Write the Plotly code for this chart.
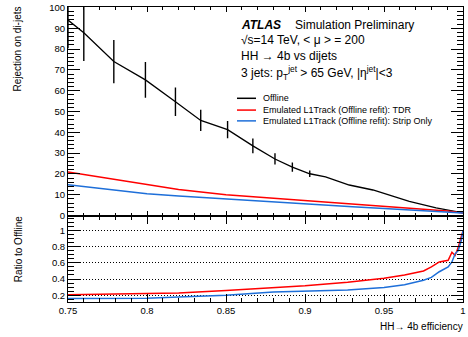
import plotly.graph_objects as go

# ---- data ----
eff_offline = [0.75, 0.760, 0.779, 0.799, 0.818, 0.834, 0.851, 0.867, 0.881, 0.892,
               0.903, 0.913, 0.928, 0.943, 0.966, 0.983, 1.0]
rej_offline = [93.9, 87.8, 74.0, 65.2, 54.7, 45.7, 41.3, 33.5, 27.2, 23.3,
               20.1, 18.6, 14.7, 12.3, 6.8, 3.7, 1.3]
err_offline = [13.5, 13.5, 10.4, 8.6, 6.8, 5.1, 4.2, 3.5, 2.7, 2.2,
               1.6, 0.0, 0.0, 0.0, 0.0, 0.0, 0.0]

eff_emu = [0.75, 0.78, 0.80, 0.82, 0.85, 0.88, 0.90, 0.93, 0.95, 0.97, 0.99, 1.0]
rej_tdr = [20.9, 17.4, 14.8, 12.5, 10.0, 8.3, 7.4, 5.7, 4.6, 3.5, 2.2, 1.3]
rej_strip = [14.8, 12.1, 10.5, 9.4, 7.9, 6.5, 5.6, 4.2, 3.4, 2.6, 1.7, 1.3]

eff_ratio = [0.75, 0.80, 0.82, 0.85, 0.88, 0.90, 0.927, 0.95, 0.963, 0.975, 0.98,
             0.985, 0.9906, 0.993, 0.995, 0.997, 0.999, 1.0]
ratio_tdr = [0.208, 0.22, 0.23, 0.26, 0.29, 0.317, 0.361, 0.41, 0.45, 0.50, 0.55,
             0.61, 0.63, 0.73, 0.69, 0.79, 0.93, 0.99]
ratio_strip = [0.16, 0.165, 0.18, 0.20, 0.24, 0.25, 0.265, 0.295, 0.33, 0.385, 0.42,
               0.49, 0.55, 0.61, 0.71, 0.75, 0.88, 0.99]

x_ticks = [0.75, 0.8, 0.85, 0.9, 0.95, 1.0]
x_ticktext = ["0.75", "0.8", "0.85", "0.9", "0.95", "1"]
y_ticks = [0, 10, 20, 30, 40, 50, 60, 70, 80, 90, 100]
r_ticks = [0.2, 0.4, 0.6, 0.8, 1.0]
r_ticktext = ["0.2", "0.4", "0.6", "0.8", "1"]

legend_labels = ["Offline",
                 "Emulated L1Track (Offline refit): TDR",
                 "Emulated L1Track (Offline refit): Strip Only"]

RED = "#ff0000"
BLUE = "#1e6fd9"
FONT = "Liberation Sans, Arial, Helvetica, sans-serif"

W, H = 468, 337
ML, MR, MT, MB = 68, 5, 2, 34.5
PW, PH = W - ML - MR, H - MT - MB


def px(x):
    return (x - ML) / PW


def py(y):
    return (H - MB - y) / PH


split = (H - MB - 214.5) / PH

fig = go.Figure()

fig.add_trace(go.Scatter(
    x=eff_offline, y=rej_offline, mode="lines",
    line=dict(color="black", width=1.3),
    error_y=dict(type="data", array=err_offline, color="black", thickness=1.4, width=0),
    xaxis="x", yaxis="y", showlegend=False))
fig.add_trace(go.Scatter(
    x=eff_emu, y=rej_tdr, mode="lines", line=dict(color=RED, width=1.5),
    xaxis="x", yaxis="y", showlegend=False))
fig.add_trace(go.Scatter(
    x=eff_emu, y=rej_strip, mode="lines", line=dict(color=BLUE, width=1.5),
    xaxis="x", yaxis="y", showlegend=False))

fig.add_trace(go.Scatter(
    x=eff_ratio, y=ratio_tdr, mode="lines", line=dict(color=RED, width=1.5),
    xaxis="x2", yaxis="y2", showlegend=False))
fig.add_trace(go.Scatter(
    x=eff_ratio, y=ratio_strip, mode="lines", line=dict(color=BLUE, width=1.5),
    xaxis="x2", yaxis="y2", showlegend=False))

common = dict(showline=True, linecolor="black", linewidth=1, mirror="allticks",
              ticks="inside", tickcolor="black", zeroline=False,
              ticklabeloverflow="allow",
              tickfont=dict(family=FONT, size=9.5, color="black"))

fig.update_layout(
    width=W, height=H,
    margin=dict(l=ML, r=MR, t=MT, b=MB, pad=0),
    paper_bgcolor="white", plot_bgcolor="white",
    font=dict(family=FONT, color="black"),
    xaxis=dict(domain=[0, 1], range=[0.75, 1.0], anchor="y",
               tickvals=x_ticks, showticklabels=False, ticklen=5,
               minor=dict(dtick=0.01, tick0=0.75, ticklen=3, ticks="inside", tickcolor="black"),
               showgrid=False, **common),
    yaxis=dict(domain=[split, 1], range=[0, 100.2], anchor="x",
               tickvals=y_ticks, ticklen=12,
               minor=dict(dtick=2, tick0=0, ticklen=6, ticks="inside", tickcolor="black"),
               showgrid=False, **common),
    xaxis2=dict(domain=[0, 1], range=[0.75, 1.0], anchor="y2",
                tickvals=x_ticks, ticktext=x_ticktext, ticklen=8,
                minor=dict(dtick=0.01, tick0=0.75, ticklen=4, ticks="inside", tickcolor="black"),
                showgrid=False, **common),
    yaxis2=dict(domain=[0, split], range=[0.118, 1.18], anchor="x2",
                tickvals=r_ticks, ticktext=r_ticktext, ticklen=12,
                minor=dict(dtick=0.05, tick0=0, ticklen=6, ticks="inside", tickcolor="black",
                           showgrid=False),
                showgrid=True, gridcolor="black", griddash="1px,2px", gridwidth=1,
                **common),
)

ann = []
ann.append(dict(text="HH\u2192 4b efficiency", x=px(465), y=py(327), xref="paper", yref="paper",
                xanchor="right", yanchor="middle", showarrow=False,
                font=dict(family=FONT, size=10, color="black")))
ann.append(dict(text="Rejection on di-jets", x=px(18), y=py(0), xref="paper", yref="paper",
                xanchor="center", yanchor="top", textangle=-90, showarrow=False,
                font=dict(family=FONT, size=10, color="black")))
ann.append(dict(text="Ratio to Offline", x=px(18), y=py(213), xref="paper", yref="paper",
                xanchor="center", yanchor="top", textangle=-90, showarrow=False,
                font=dict(family=FONT, size=10, color="black")))

ann.append(dict(text="<b><i>ATLAS</i></b>", x=px(239), y=py(20), xref="paper", yref="paper",
                xanchor="left", yanchor="middle", showarrow=False,
                font=dict(family=FONT, size=12, color="black")))
ann.append(dict(text="Simulation Preliminary", x=px(293), y=py(20), xref="paper", yref="paper",
                xanchor="left", yanchor="middle", showarrow=False,
                font=dict(family=FONT, size=12, color="black")))
ann.append(dict(text="\u221as=14 TeV, < \u03bc > = 200", x=px(239), y=py(36), xref="paper", yref="paper",
                xanchor="left", yanchor="middle", showarrow=False,
                font=dict(family=FONT, size=12, color="black")))
ann.append(dict(text="HH \u2192 4b vs dijets", x=px(239), y=py(52), xref="paper", yref="paper",
                xanchor="left", yanchor="middle", showarrow=False,
                font=dict(family=FONT, size=12, color="black")))
ann.append(dict(text="3 jets: p<sub>T</sub><sup>jet</sup> > 65 GeV, |\u03b7<sup>jet</sup>|<3",
                x=px(239), y=py(69), xref="paper", yref="paper",
                xanchor="left", yanchor="middle", showarrow=False,
                font=dict(family=FONT, size=12, color="black")))

shapes = []
leg_y = [95, 107, 118]
leg_col = ["black", RED, BLUE]
for lab, yy, col in zip(legend_labels, leg_y, leg_col):
    shapes.append(dict(type="line", xref="paper", yref="paper",
                       x0=px(237), x1=px(256), y0=py(yy), y1=py(yy),
                       line=dict(color=col, width=1.5)))
    ann.append(dict(text=lab, x=px(261), y=py(yy), xref="paper", yref="paper",
                    xanchor="left", yanchor="middle", showarrow=False,
                    font=dict(family=FONT, size=9, color="black")))

fig.update_layout(annotations=ann, shapes=shapes)

fig.write_html("out.html", config={"displayModeBar": False},
               post_script="document.body.style.margin='0';document.body.style.padding='0';")
